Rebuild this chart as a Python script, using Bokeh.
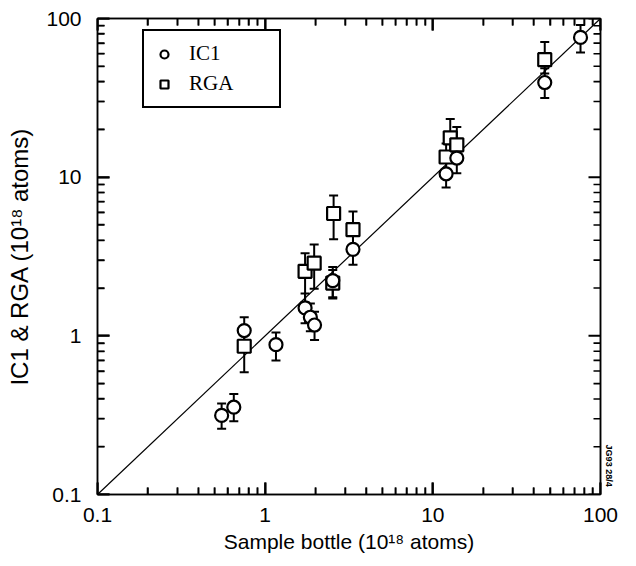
from bokeh.embed import file_html
from bokeh.models import (ColumnDataSource, FixedTicker, Legend, LegendItem,
                          LogAxis, NumeralTickFormatter, Range1d, TeeHead, Whisker)
from bokeh.plotting import figure
from bokeh.resources import INLINE

# IC1 measurements against the sample bottle reference (10^18 atoms)
ic1_x = [0.55, 0.65, 0.75, 1.16, 1.73, 1.86, 1.97, 2.53, 3.34, 12.0, 13.9, 46.5, 76.0]
ic1_y = [0.315, 0.355, 1.08, 0.88, 1.50, 1.31, 1.17, 2.23, 3.51, 10.5, 13.2, 39.5, 76.0]
ic1_lo = [0.26, 0.29, 0.89, 0.70, 1.20, 1.07, 0.94, 1.75, 2.81, 8.6, 10.6, 31.5, 61.0]
ic1_hi = [0.375, 0.43, 1.31, 1.05, 1.85, 1.60, 1.42, 2.72, 4.3, 12.8, 16.1, 48.5, 91.0]

# RGA measurements against the sample bottle reference (10^18 atoms)
rga_x = [0.75, 1.73, 1.96, 2.56, 2.53, 3.34, 12.0, 12.7, 13.9, 46.5]
rga_y = [0.86, 2.55, 2.87, 5.9, 2.15, 4.67, 13.4, 17.7, 16.0, 55.0]
rga_lo = [0.59, 1.63, 1.98, 4.06, 1.72, 3.6, 11.0, 14.5, 13.0, 45.0]
rga_hi = [1.05, 3.32, 3.77, 7.67, 2.6, 6.08, 16.3, 23.3, 20.7, 71.0]

# 1:1 reference line and decade ticks
unity_x = [0.1, 100.0]
unity_y = [0.1, 100.0]
decades = [0.1, 1, 10, 100]
tick_labels = ["0.1", "1", "10", "100"]
minor = [d * k for d in decades[:-1] for k in range(2, 10)]

# figure identifier printed beside the right axis
id_tag = "JG93 28/4"
ID_TAG_Y = 0.152

SANS = "Liberation Sans"
SERIF = "Liberation Serif"

W, H = 636, 566
BL, BR, BT, BB = 97, 36, 18, 72
LO, HI = 0.1, 100.0
MAJOR_LEN, MINOR_LEN = 12, 7

p = figure(width=W, height=H, x_axis_type="log", y_axis_type="log",
           x_range=Range1d(LO, HI), y_range=Range1d(LO, HI),
           output_backend="svg", toolbar_location=None,
           min_border_left=BL, min_border_right=BR, min_border_top=BT,
           min_border_bottom=BB, background_fill_color="white",
           border_fill_color="white", outline_line_color="black",
           outline_line_width=1.5)
p.grid.visible = False

def style_axis(ax, ticks_in):
    ax.formatter = NumeralTickFormatter(format="0.[0]")
    ax.axis_line_width = 1.5
    ax.axis_line_color = "black"
    ax.major_tick_in = MAJOR_LEN if ticks_in else 0
    ax.major_tick_out = 0
    ax.minor_tick_in = MINOR_LEN if ticks_in else 0
    ax.minor_tick_out = 0
    ax.major_tick_line_width = 2
    ax.minor_tick_line_width = 1.6
    ax.major_label_text_font = SANS
    ax.major_label_text_font_size = "21px"
    ax.major_label_text_color = "black"
    ax.axis_label_text_font = SANS
    ax.axis_label_text_font_style = "normal"
    ax.axis_label_text_color = "black"

for ax in (p.xaxis[0], p.yaxis[0]):
    style_axis(ax, True)
    ax.ticker = FixedTicker(ticks=decades, minor_ticks=minor)
    ax.major_label_overrides = {v: t for v, t in zip(decades, tick_labels)}

p.xaxis[0].axis_label = "Sample bottle (10¹⁸ atoms)"
p.yaxis[0].axis_label = "IC1 & RGA (10¹⁸ atoms)"
p.xaxis[0].axis_label_text_font_size = "21px"
p.yaxis[0].axis_label_text_font_size = "24px"
p.xaxis[0].major_label_standoff = 13
p.xaxis[0].axis_label_standoff = 5
p.yaxis[0].major_label_standoff = 16
p.yaxis[0].axis_label_standoff = 10

top_axis = LogAxis()
style_axis(top_axis, True)
top_axis.ticker = FixedTicker(ticks=decades, minor_ticks=minor)
top_axis.major_label_overrides = {v: "" for v in decades}
top_axis.major_label_standoff = 0
p.add_layout(top_axis, "above")

right_axis = LogAxis()
style_axis(right_axis, False)
right_axis.ticker = FixedTicker(ticks=[ID_TAG_Y], minor_ticks=[])
right_axis.major_label_overrides = {ID_TAG_Y: id_tag}
right_axis.major_label_orientation = "vertical"
right_axis.major_label_text_font_size = "9px"
right_axis.major_label_text_font_style = "bold"
right_axis.major_label_standoff = 3
p.add_layout(right_axis, "right")

# inward ticks on all four sides, built from the tick values
dec_x = (W - BL - BR) / 3.0
dec_y = (H - BT - BB) / 3.0
tx0, tx1, ty0, ty1, tw = [], [], [], [], []
for vals, length, width in ((decades, MAJOR_LEN, 2.0), (minor, MINOR_LEN, 1.6)):
    fy = 10 ** (length / dec_y)
    fx = 10 ** (length / dec_x)
    for t in vals:
        tx0 += [t, t, LO, HI]
        tx1 += [t, t, LO * fx, HI / fx]
        ty0 += [LO, HI, t, t]
        ty1 += [LO * fy, HI / fy, t, t]
        tw += [width] * 4
tick_src = ColumnDataSource(dict(x0=tx0, y0=ty0, x1=tx1, y1=ty1, w=tw))
p.segment(x0="x0", y0="y0", x1="x1", y1="y1", source=tick_src,
          line_color="black", line_width="w")

# 1:1 line
p.line(unity_x, unity_y, line_color="black", line_width=1.2)

ic1_src = ColumnDataSource(dict(x=ic1_x, y=ic1_y, lo=ic1_lo, hi=ic1_hi))
rga_src = ColumnDataSource(dict(x=rga_x, y=rga_y, lo=rga_lo, hi=rga_hi))

for src in (rga_src, ic1_src):
    w = Whisker(source=src, base="x", lower="lo", upper="hi", dimension="height",
                line_color="black", line_width=2,
                upper_head=TeeHead(size=9, line_width=2, line_color="black"),
                lower_head=TeeHead(size=9, line_width=2, line_color="black"),
                level="underlay")
    p.add_layout(w)

sq = p.scatter("x", "y", source=rga_src, marker="square", size=13,
               line_color="black", line_width=2.2, fill_color="white")
ci = p.scatter("x", "y", source=ic1_src, marker="circle", size=13,
               line_color="black", line_width=2.2, fill_color="white")

legend = Legend(items=[LegendItem(label="IC1", renderers=[ci]),
                       LegendItem(label="RGA", renderers=[sq])],
                location=(45, 386), orientation="vertical",
                glyph_width=20, glyph_height=20, label_width=80,
                label_standoff=15, padding=10, spacing=5, margin=0,
                label_text_font=SERIF, label_text_font_size="21px",
                label_text_color="black",
                border_line_color="black", border_line_width=2,
                border_line_alpha=1.0,
                background_fill_color="white", background_fill_alpha=1.0)
p.add_layout(legend, "center")

open("out.html", "w").write(file_html(p, INLINE))
